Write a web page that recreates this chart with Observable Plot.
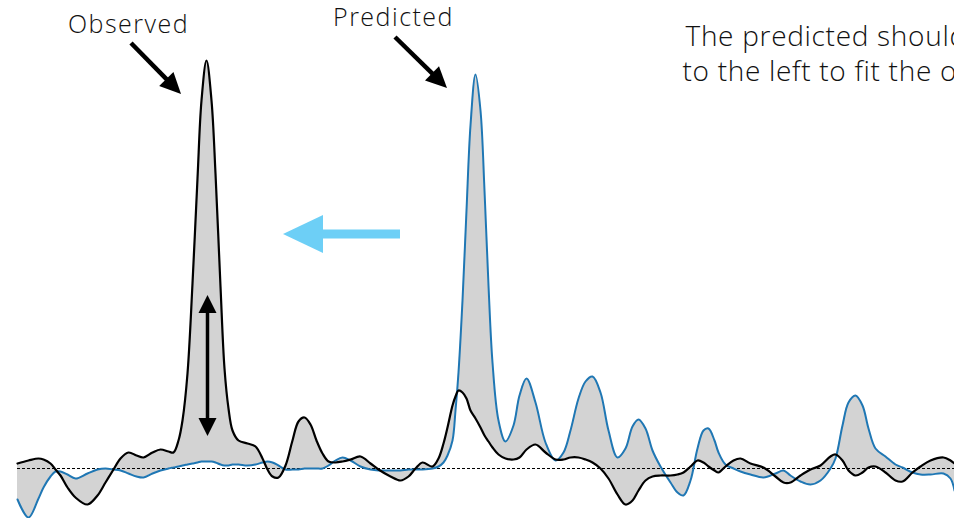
<!DOCTYPE html>
<html>
<head>
<meta charset="utf-8">
<script src="https://cdn.jsdelivr.net/npm/d3@7"></script>
<script src="https://cdn.jsdelivr.net/npm/@observablehq/plot@0.6"></script>
<style>
  html, body { margin: 0; padding: 0; background: #fff; overflow: hidden; }
  #chart svg { overflow: hidden; }
  #chart text { letter-spacing: 1.5px; }
  #chart g[font-size="28"] text { letter-spacing: 0.7px; }
</style>
</head>
<body>
<div id="chart"></div>
<script>
// Sample positions (lag) and the two waveforms: observed (black) and predicted (blue)
const t = [17, 28, 38, 43, 50, 55, 60, 67, 75, 87, 97, 105, 113, 120, 128, 136, 143, 152, 160, 168,
  173, 178, 182, 187, 192, 197, 201, 206, 211, 215, 220, 224, 228, 232, 238, 247, 255, 262, 267, 272,
  278, 285, 292, 298, 304, 310, 316, 322, 328, 335, 342, 350, 360, 370, 378, 390, 400, 408, 415, 422,
  432, 438, 443, 447, 452, 455, 458, 462, 466, 470, 475, 480, 484, 488, 492, 498, 505, 513, 519, 526,
  535, 545, 555, 563, 570, 578, 585, 592, 600, 608, 617, 625, 632, 638, 645, 652, 660, 670, 677, 683,
  690, 697, 703, 708, 714, 718, 725, 733, 740, 750, 763, 775, 783, 790, 800, 810, 820, 830, 835, 842,
  848, 855, 862, 868, 875, 885, 895, 902, 912, 920, 930, 943, 950, 954];

const observed = [5, 8, 10, 9, 5, -1, -7, -19, -29, -36, -27, -14, -1, 10, 16, 13, 11, 16, 19, 17,
  16, 28, 48, 95, 185, 290, 368, 408, 368, 295, 182, 100, 60, 38, 28, 25, 22, 10, -1, -8,
  -9, 3, 28, 47, 51, 44, 28, 15, 7, 6, 7, 9, 12, 5, -1, -8, -12, -8, 0, 6,
  2, 10, 25, 41, 63, 72, 78, 76, 70, 58, 50, 41, 33, 27, 21, 14, 10, 9, 11, 19,
  24, 16, 9, 9, 11, 11, 9, 6, 0, -10, -26, -36, -32, -22, -12, -8, -7, -7, -6, -4,
  2, 8, 6, 2, -2, -4, 2, 8, 10, 5, 1, -8, -14, -14, -7, -1, 3, 12, 14, 8,
  -2, -7, -4, 1, 2, -4, -12, -13, -4, 2, 8, 11, 8, 5];

const predicted = [-31, -49, -30, -19, -8, -3, -3, -6, -10, -5, -1, 0, -1, -2, -5, -8, -9, -5, -2, 0,
  1, 2, 3, 4, 5, 6, 7, 7, 7, 6, 4, 3, 3, 4, 4, 3, 4, 6, 7, 6,
  3, -1, -1, -1, 0, 0, 0, 0, 3, 8, 11, 8, 2, -1, -2, -2, -2, -1, -1, -1,
  0, 2, 6, 13, 28, 58, 96, 168, 258, 343, 394, 358, 278, 183, 106, 48, 27, 43, 73, 90,
  66, 26, 8, 16, 38, 70, 87, 92, 76, 38, 11, 20, 42, 49, 40, 18, 2, -14, -24, -27,
  -12, 20, 38, 40, 28, 16, 4, 0, -3, -6, -9, -5, -2, -7, -13, -16, -12, 0, 10, 43,
  66, 73, 63, 40, 20, 12, 4, 1, -4, -6, -6, -5, -10, -22];

const rows = t.map((x, i) => ({t: x, observed: observed[i], predicted: predicted[i]}));

// Annotation labels and arrows, in the same (lag, amplitude) units as the data
const peakLabels = [
  {t: 128, v: 444, text: "Observed"},
  {t: 393, v: 451, text: "Predicted"}
];
const noteLabels = [
  {t: 685, v: 431, text: "The predicted should be shifted"},
  {t: 682, v: 396, text: "to the left to fit the observed"}
];
const arrows = [
  {x1: 131, y1: 425, x2: 181, y2: 374, color: "#000", shaft: 4.5, headLen: 21, headHalf: 10, both: false},
  {x1: 395, y1: 431, x2: 447, y2: 380, color: "#000", shaft: 4.5, headLen: 21, headHalf: 10, both: false},
  {x1: 400, y1: 234, x2: 283, y2: 234, color: "#6dcff6", shaft: 9, headLen: 40, headHalf: 19, both: false},
  {x1: 207.5, y1: 32, x2: 207.5, y2: 173, color: "#000", shaft: 3.5, headLen: 18, headHalf: 9, both: true}
];

// Draws filled-head arrows positioned through the plot's scales
function arrowMark(data) {
  return (index, scales) => {
    const g = d3.create("svg:g");
    for (const a of data) {
      const x1 = scales.x(a.x1), y1 = scales.y(a.y1), x2 = scales.x(a.x2), y2 = scales.y(a.y2);
      const dx = x2 - x1, dy = y2 - y1, L = Math.hypot(dx, dy);
      const ux = dx / L, uy = dy / L, px = -uy, py = ux;
      const head = (tx, ty, sx, sy) => {
        const bx = tx - sx * a.headLen, by = ty - sy * a.headLen;
        return `M${tx},${ty}L${bx + px * a.headHalf},${by + py * a.headHalf}L${bx - px * a.headHalf},${by - py * a.headHalf}Z`;
      };
      const sx1 = a.both ? x1 + ux * (a.headLen - 2) : x1, sy1 = a.both ? y1 + uy * (a.headLen - 2) : y1;
      const sx2 = x2 - ux * (a.headLen - 2), sy2 = y2 - uy * (a.headLen - 2);
      g.append("line").attr("x1", sx1).attr("y1", sy1).attr("x2", sx2).attr("y2", sy2)
        .attr("stroke", a.color).attr("stroke-width", a.shaft);
      g.append("path").attr("d", head(x2, y2, ux, uy)).attr("fill", a.color);
      if (a.both) g.append("path").attr("d", head(x1, y1, -ux, -uy)).attr("fill", a.color);
    }
    return g.node();
  };
}

const font = "'Helvetica Neue', 'Open Sans', 'Liberation Sans', sans-serif";

const chart = Plot.plot({
  width: 954,
  height: 518,
  margin: 0,
  x: {domain: [0, 954], axis: null},
  y: {domain: [-50, 468], axis: null},
  style: {background: "#fff", fontFamily: font},
  marks: [
    Plot.areaY(rows, {x: "t", y1: "observed", y2: "predicted", fill: "#d3d3d3", curve: "catmull-rom"}),
    Plot.ruleY([0], {x1: t[0], x2: 954, stroke: "#000", strokeWidth: 1, strokeDasharray: "3,2"}),
    Plot.line(rows, {x: "t", y: "predicted", stroke: "#1f77b4", strokeWidth: 2, curve: "catmull-rom"}),
    Plot.line(rows, {x: "t", y: "observed", stroke: "#000", strokeWidth: 2.2, curve: "catmull-rom"}),
    arrowMark(arrows),
    Plot.text(peakLabels, {x: "t", y: "v", text: "text", textAnchor: "middle", fontSize: 25, fontWeight: 300,
      fill: "#111"}),
    Plot.text(noteLabels, {x: "t", y: "v", text: "text", textAnchor: "start", fontSize: 28, fontWeight: 300,
      fill: "#111"})
  ]
});

document.getElementById("chart").append(chart);
</script>
</body>
</html>
